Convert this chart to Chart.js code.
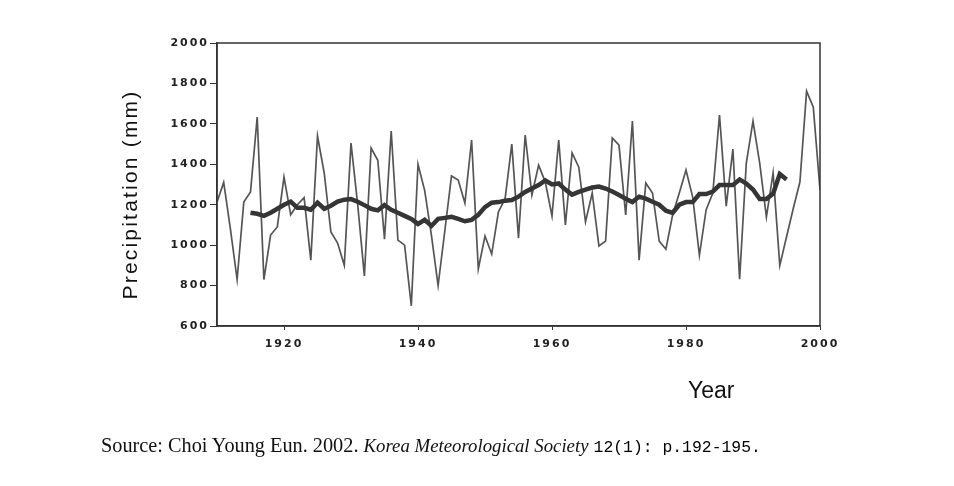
<!DOCTYPE html>
<html>
<head>
<meta charset="utf-8">
<script src="https://cdn.jsdelivr.net/npm/chart.js@4.4.1/dist/chart.umd.min.js"></script>
<style>
  body { margin: 0; background: #fff; }
  #wrap { position: relative; width: 954px; height: 486px; }
  #source { position: absolute; left: 101px; top: 435px; font-family: "Liberation Serif", serif; font-size: 20.3px; line-height: 20px; color: #111; white-space: nowrap; }
  #source i { font-size: 18.8px; }
  #source .num { font-family: "Liberation Mono", monospace; font-size: 16.4px; color: #000; }
</style>
</head>
<body>
<div id="wrap">
  <canvas id="myChart" width="954" height="486"></canvas>
  <div id="source">Source: Choi Young Eun. 2002. <i>Korea Meteorological Society</i> <span class="num">12(1): p.192-195.</span></div>
</div>
<script>
let myChart = document.getElementById('myChart').getContext('2d');

// Data (annual precipitation, mm)
const years = [
  1910, 1911, 1912, 1913, 1914, 1915, 1916, 1917, 1918, 1919,
  1920, 1921, 1922, 1923, 1924, 1925, 1926, 1927, 1928, 1929,
  1930, 1931, 1932, 1933, 1934, 1935, 1936, 1937, 1938, 1939,
  1940, 1941, 1942, 1943, 1944, 1945, 1946, 1947, 1948, 1949,
  1950, 1951, 1952, 1953, 1954, 1955, 1956, 1957, 1958, 1959,
  1960, 1961, 1962, 1963, 1964, 1965, 1966, 1967, 1968, 1969,
  1970, 1971, 1972, 1973, 1974, 1975, 1976, 1977, 1978, 1979,
  1980, 1981, 1982, 1983, 1984, 1985, 1986, 1987, 1988, 1989,
  1990, 1991, 1992, 1993, 1994, 1995, 1996, 1997, 1998, 1999,
  2000
];
const precipitation = [
  1213, 1310, 1080,  830, 1213, 1263, 1634,  830, 1050, 1090,
  1337, 1150, 1200, 1235,  926, 1540, 1357, 1065, 1010,  900,
  1505, 1200,  847, 1480, 1420, 1030, 1565, 1025, 1000,  700,
  1400, 1270, 1050,  800, 1070, 1342, 1322, 1208, 1520,  882,
  1045,  956, 1164, 1230, 1500, 1035, 1545, 1248, 1396, 1312,
  1144, 1520, 1100, 1456, 1386, 1115, 1258,  996, 1020, 1530,
  1495, 1149, 1614,  926, 1307, 1258, 1020,  980, 1149, 1258,
  1372, 1238,  950, 1174, 1258, 1644, 1193, 1475,  832, 1406,
  1614, 1406, 1139, 1357,  900, 1040, 1180, 1312, 1762, 1683,
  1273
];
// smoothed (moving average) curve
const smoothed = [
  null, null, null, null, null, 1160, 1155, 1145, 1160, 1180,
  1200, 1215, 1185, 1185, 1175, 1210, 1180, 1195, 1215, 1225,
  1228, 1215, 1198, 1180, 1172, 1198, 1175, 1160, 1145, 1130,
  1105, 1125, 1095, 1130, 1135, 1140, 1130, 1118, 1125, 1150,
  1188, 1210, 1213, 1220, 1223, 1240, 1263, 1280, 1297, 1320,
  1300, 1305, 1275, 1250, 1263, 1275, 1285, 1290, 1280, 1265,
  1248, 1230, 1213, 1240, 1230, 1215, 1200, 1170, 1160, 1200,
  1213, 1213, 1253, 1253, 1265, 1297, 1297, 1297, 1325, 1305,
  1275, 1228, 1228, 1255, 1352, 1325, null, null, null, null,
  null
];
const yearTicks = [1920, 1940, 1960, 1980, 2000];

const toPoints = vals => years.map((yr, i) => ({ x: yr, y: vals[i] }));

const tickFont = { family: '"DejaVu Sans", sans-serif', size: 11, weight: 'bold' };

// frame box + axis titles
const framePlugin = {
  id: 'frame',
  beforeDraw(chart) {
    chart.ctx.letterSpacing = '2px';
  },
  afterDraw(chart) {
    const c = chart.ctx, a = chart.chartArea;
    c.save();
    c.letterSpacing = '0px';
    c.strokeStyle = '#333';
    c.lineWidth = 1.5;
    c.strokeRect(a.left, a.top, a.right - a.left, a.bottom - a.top);

    c.fillStyle = '#111';
    c.font = '23px "Liberation Sans", Arial, sans-serif';
    c.textAlign = 'left';
    c.textBaseline = 'alphabetic';
    c.fillText('Year', a.right - 132, a.bottom + 72);

    c.translate(a.left - 80, (a.top + a.bottom) / 2 + 10);
    c.rotate(-Math.PI / 2);
    c.letterSpacing = '2.2px';
    c.font = '21px "Liberation Sans", Arial, sans-serif';
    c.textAlign = 'center';
    c.fillText('Precipitation (mm)', 0, 0);
    c.restore();
  }
};

const data = {
  datasets: [{
    label: 'Annual',
    data: toPoints(precipitation),
    borderColor: '#555555',
    borderWidth: 1.7,
    pointRadius: 0,
    tension: 0,
    order: 1
  }, {
    label: 'Moving average',
    data: toPoints(smoothed),
    borderColor: '#353535',
    borderWidth: 4.5,
    pointRadius: 0,
    tension: 0,
    order: 0
  }]
};

const config = {
  type: 'line',
  data: data,
  options: {
    responsive: false,
    animation: false,
    devicePixelRatio: 1,
    layout: { padding: { top: 43, right: 134, bottom: 0, left: 0 } },
    plugins: { legend: { display: false }, tooltip: { enabled: false } },
    scales: {
      x: {
        type: 'linear',
        min: 1910,
        max: 2000,
        afterBuildTicks: s => { s.ticks = yearTicks.map(v => ({ value: v })); },
        afterFit: s => { s.height = 160; },
        grid: { drawOnChartArea: false, tickLength: 4, color: '#333' },
        border: { color: '#333', width: 1.5 },
        ticks: { padding: 8, color: '#222', font: tickFont, maxRotation: 0, autoSkip: false, callback: v => String(v) }
      },
      y: {
        min: 600,
        max: 2000,
        afterFit: s => { s.width = 217; },
        grid: { drawOnChartArea: false, tickLength: 7, color: '#333' },
        border: { color: '#333', width: 1.5 },
        ticks: { stepSize: 200, padding: 1, color: '#222', font: tickFont, callback: v => String(v) }
      }
    }
  },
  plugins: [framePlugin]
};

let precipChart = new Chart(myChart, config);
</script>
</body>
</html>
